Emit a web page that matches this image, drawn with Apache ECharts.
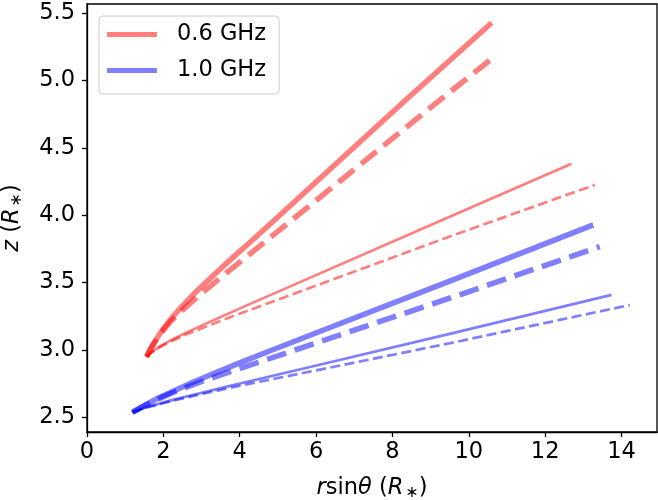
<!DOCTYPE html>
<html>
<head>
<meta charset="utf-8">
<script src="https://cdn.jsdelivr.net/npm/echarts@6/dist/echarts.min.js"></script>
<style>html,body{margin:0;padding:0;background:#fff}#c{width:658px;height:500px}</style>
</head>
<body>
<div id="c"></div>
<script>
// [r sin(theta), z] pairs
const red06ThickSolid = [[1.56,2.95],[1.65,3.0],[1.75,3.05],[1.9,3.118],[2.0,3.159],[2.2,3.232],[2.5,3.328],[2.87,3.436],[3.3,3.552],[3.8,3.682],[4.27,3.800],[5.0,3.988],[6.0,4.248],[8.37,4.862],[10.6,5.43]];
const red06ThickDash  = [[1.56,2.95],[1.65,3.0],[1.75,3.048],[1.9,3.11],[2.0,3.148],[2.2,3.215],[2.5,3.295],[2.87,3.388],[3.3,3.49],[3.8,3.606],[4.27,3.714],[5.0,3.881],[6.0,4.11],[9.33,4.876],[10.68,5.18]];
const red06ThinSolid  = [[1.56,2.95],[1.7,2.985],[1.9,3.025],[2.2,3.073],[2.6,3.129],[3.1,3.194],[3.7,3.27],[4.53,3.374],[9.5,3.99],[12.69,4.382]];
const red06ThinDash   = [[1.56,2.95],[1.7,2.983],[1.9,3.02],[2.2,3.065],[2.6,3.115],[3.1,3.172],[3.7,3.238],[4.27,3.298],[9.5,3.842],[13.3,4.226]];
const blue10ThickSolid = [[1.19,2.537],[1.4,2.572],[1.6,2.603],[1.87,2.643],[2.3,2.70],[2.74,2.756],[3.3,2.824],[4.0,2.904],[4.8,2.994],[6.23,3.152],[9.4,3.50],[13.26,3.929]];
const blue10ThickDash  = [[1.19,2.537],[1.4,2.57],[1.6,2.60],[1.87,2.637],[2.3,2.69],[3.09,2.775],[3.92,2.855],[4.75,2.933],[6.5,3.10],[9.4,3.375],[13.43,3.767]];
const blue10ThinSolid  = [[1.19,2.537],[1.4,2.56],[1.6,2.578],[1.87,2.60],[2.3,2.633],[2.74,2.664],[3.61,2.724],[4.48,2.783],[6.23,2.90],[9.5,3.12],[13.74,3.409]];
const blue10ThinDash   = [[1.19,2.537],[1.4,2.558],[1.6,2.575],[1.87,2.596],[2.3,2.627],[2.74,2.656],[3.61,2.71],[4.27,2.75],[6.23,2.862],[9.5,3.05],[14.22,3.334]];
const legendNames = ['0.6 GHz', '1.0 GHz'];
const xTicks = [0,2,4,6,8,10,12,14];
const yTicks = [2.5,3.0,3.5,4.0,4.5,5.0,5.5];

const RED = 'rgba(255,0,0,0.5)', BLUE = 'rgba(0,0,255,0.5)';
const FONT = 'DejaVu Sans';
const FS = 22.5;
function line(name, data, color, width, dash) {
  return {
    name: name, type: 'line', data: data, showSymbol: false, symbol: 'none',
    silent: true, animation: false, color: color,
    lineStyle: { color: color, width: width, type: dash || 'solid', cap: 'butt', join: 'round' }
  };
}
const rich = {
  i: { fontFamily: FONT, fontStyle: 'italic', fontSize: FS, color: '#000' },
  n: { fontFamily: FONT, fontSize: FS, color: '#000' },
  s: { fontFamily: FONT, fontSize: 16, color: '#000', verticalAlign: 'bottom', padding: [9,0,0,2] }
};
const chart = echarts.init(document.getElementById('c'), null, { renderer: 'canvas' });
chart.setOption({
  animation: false,
  backgroundColor: '#fff',
  grid: { left: 87, right: 1, top: 4, bottom: 68, containLabel: false, outerBoundsMode: 'none',
    show: true, borderColor: '#000', borderWidth: 1.3, backgroundColor: 'transparent' },
  legend: {
    data: legendNames, orient: 'vertical', left: 99, top: 16,
    icon: 'rect', itemWidth: 50, itemHeight: 5, itemGap: 13,
    padding: [7, 13, 12, 8],
    borderColor: '#cccccc', borderWidth: 1, borderRadius: 4, backgroundColor: 'rgba(255,255,255,0.8)',
    textStyle: { fontFamily: FONT, fontSize: FS, color: '#000', padding: [0,0,0,15] },
    selectedMode: false
  },
  xAxis: {
    type: 'value', min: 0, max: 14.93,
    splitLine: { show: false },
    axisLine: { show: true, onZero: false, lineStyle: { color: '#000', width: 1.3 } },
    axisTick: { show: true, length: 5, customValues: xTicks, lineStyle: { color: '#000', width: 1.3 } },
    axisLabel: { customValues: xTicks, fontFamily: FONT, fontSize: FS, color: '#000', margin: 9 },
    nameLocation: 'middle', nameGap: 44,
    name: '{i|r}{n|sin}{i|θ}{n| (}{i|R}{s|∗}{n|)}',
    nameTextStyle: { rich: rich }
  },
  yAxis: {
    type: 'value', min: 2.391, max: 5.569,
    splitLine: { show: false },
    axisLine: { show: true, onZero: false, lineStyle: { color: '#000', width: 1.3 } },
    axisTick: { show: true, length: 5, customValues: yTicks, lineStyle: { color: '#000', width: 1.3 } },
    axisLabel: { customValues: yTicks, fontFamily: FONT, fontSize: FS, color: '#000', margin: 12,
      formatter: function (v) { return v.toFixed(1); } },
    nameLocation: 'middle', nameGap: 62, nameRotate: 90,
    name: '{i|z}{n| (}{i|R}{s|∗}{n|)}',
    nameTextStyle: { rich: rich }
  },
  series: [
    line('0.6 GHz', red06ThickSolid, RED, 5.5),
    line('_r2', red06ThickDash, RED, 5.5, [20, 9]),
    line('_r3', red06ThinSolid, RED, 2.7),
    line('_r4', red06ThinDash, RED, 2.7, [10, 4.5]),
    line('1.0 GHz', blue10ThickSolid, BLUE, 5.5),
    line('_b2', blue10ThickDash, BLUE, 5.5, [20, 9]),
    line('_b3', blue10ThinSolid, BLUE, 2.7),
    line('_b4', blue10ThinDash, BLUE, 2.7, [10, 4.5])
  ]
});
</script>
</body>
</html>
